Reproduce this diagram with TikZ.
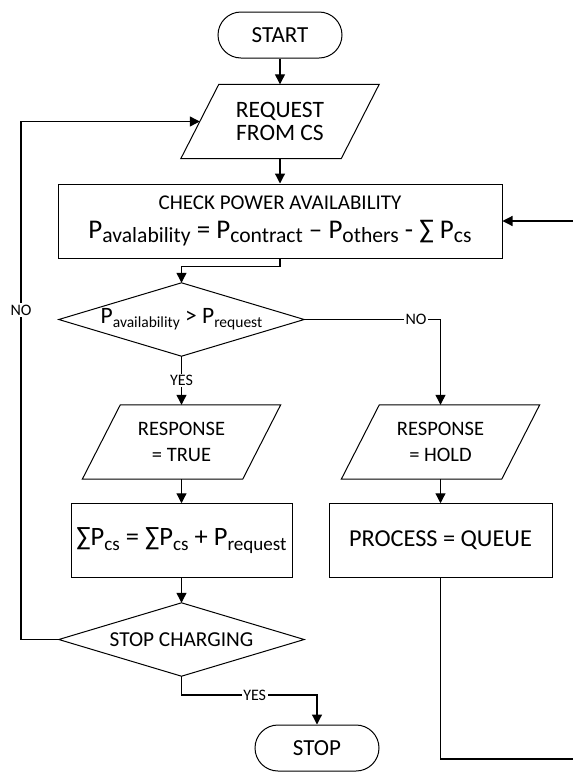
\documentclass[tikz,border=0pt]{standalone}
\usepackage{fontspec}
\setmainfont{Carlito}
\usetikzlibrary{arrows.meta,calc}
\makeatletter
% lowered, smaller text for subscripts; optional argument is the size ratio
\newcommand\lowsub[2][0.66]{\raisebox{-0.17em}{\fontsize{\the\dimexpr#1\dimexpr\f@size pt\relax\relax}{1em}\selectfont #2}}
\makeatother
\newcommand\fterm{\fontsize{23}{26}\selectfont}
\newcommand\fbody{\fontsize{20.5}{26}\selectfont}
\newcommand\freq{\fontsize{23.5}{23.5}\selectfont}
\newcommand\fcheck{\fontsize{21}{24}\selectfont}
\newcommand\fproc{\fontsize{24.3}{28}\selectfont}
\newcommand\fcheckeq{\fontsize{27}{30}\selectfont}
\newcommand\fsumeq{\fontsize{26.5}{30}\selectfont}
\newcommand\fdeceq{\fontsize{23.5}{28}\selectfont}
\newcommand\fstopc{\fontsize{21.3}{25}\selectfont}
\newcommand\flabel{\fontsize{16}{18}\selectfont}
\begin{document}
\begin{tikzpicture}[x=1pt,y=-1pt,
  every node/.style={inner sep=0pt, align=center},
  term/.style={draw, line width=1pt, rounded corners=23pt, minimum width=124pt, minimum height=46pt, font=\fterm},
  box/.style={draw, line width=1pt, minimum height=73.5pt},
  io/.style={minimum width=160pt, minimum height=74pt, font=\fbody},
  dec/.style={minimum width=245pt, minimum height=73pt},
  outline/.style={line width=1pt},
  wire/.style={line width=1.2pt},
  flow/.style={wire, -{Triangle[width=10pt,length=10pt]}},
  lbl/.style={fill=white, font=\flabel, inner sep=1.5pt}]
\useasboundingbox (0,0) rectangle (573,772);

% terminals
\node[term] (start) at (280,35) {START};
\node[term] (stop) at (317,748) {STOP};

% input / output blocks
\node[io, font=\freq] (req) at (280,121.5) {REQUEST\\FROM CS};
\node[io] (rtrue) at (181.5,442) {RESPONSE\\= TRUE};
\node[io] (rhold) at (440.5,442) {RESPONSE\\= HOLD};
\foreach \n in {req,rtrue,rhold}
  \draw[outline] ($(\n.north west)+(19,0)$) -- ($(\n.north east)+(19,0)$)
    -- ($(\n.south east)+(-19,0)$) -- ($(\n.south west)+(-19,0)$) -- cycle;

% process blocks
\node[box, minimum width=444pt, minimum height=74pt, font=\fcheck] (check) at (280,221)
  {CHECK POWER AVAILABILITY\\[5pt]{\fcheckeq P\lowsub[0.8]{avalability} = P\lowsub[0.8]{contract} – P\lowsub[0.8]{others} - ∑ P\lowsub[0.8]{cs}}};
\node[box, minimum width=221pt, font=\fsumeq] (sum) at (181.5,540.5)
  {∑P\lowsub[0.72]{cs} = ∑P\lowsub[0.72]{cs} + P\lowsub[0.72]{request}};
\node[box, minimum width=223pt, font=\fproc] (proc) at (440.5,540.5) {PROCESS = QUEUE};

% decisions
\node[dec, font=\fdeceq] (d1) at (181.5,319.5) {P\lowsub[0.66]{availability} > P\lowsub[0.66]{request}};
\node[dec, font=\fstopc] (d2) at (181.5,639.5) {STOP CHARGING};
\foreach \n in {d1,d2}
  \draw[outline] (\n.north) -- (\n.east) -- (\n.south) -- (\n.west) -- cycle;

% connectors
\coordinate (loopL) at (21,639.5);
\coordinate (yes2) at (181.5,695);
\coordinate (back) at (575,759);

\draw[flow] (start.south) -- (start.south |- req.north);
\draw[flow] (req.south) -- (check.north);
\draw[flow] (check.south) -- ++(0,8) -| (d1.north);
\draw[flow] (d1.south) -- node[lbl]{YES} (rtrue.north);
\draw[flow] (d1.east) -| node[lbl,pos=0.41]{NO} (rhold.north);
\draw[flow] (rtrue.south) -- (sum.north);
\draw[flow] (rhold.south) -- (proc.north);
\draw[flow] (sum.south) -- (d2.north);
\draw[flow] (d2.west) -- (loopL) |- node[lbl,pos=0.318]{NO} (req.west);
\draw[flow] (d2.south) -- (yes2) -- node[lbl,pos=0.54]{YES} (yes2 -| stop.north) -- (stop.north);
\draw[flow] (proc.south) |- (back) |- (check.east);
\end{tikzpicture}
\end{document}
